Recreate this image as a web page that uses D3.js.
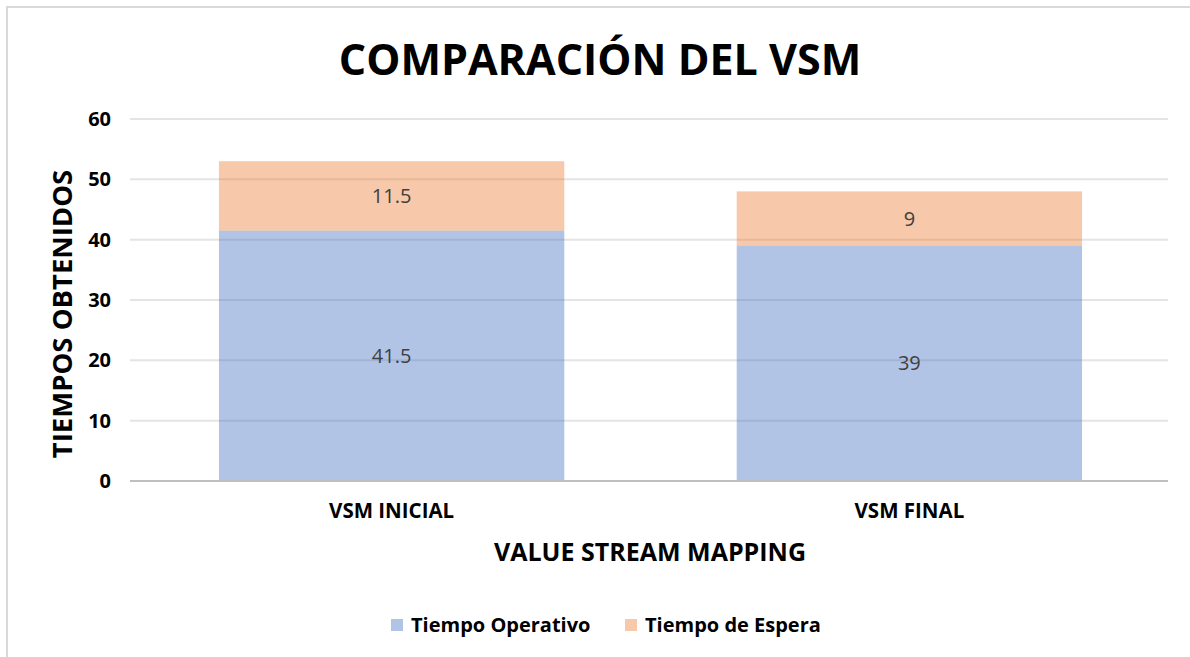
<!DOCTYPE html>
<html>
<head>
<meta charset="utf-8">
<script src="https://cdn.jsdelivr.net/npm/d3@7"></script>
<style>
  body { margin: 0; background: #fff; }
  text { font-family: "Open Sans", "Noto Sans", sans-serif; }
</style>
</head>
<body>
<svg id="chart" width="1190" height="657"></svg>
<script>
// data
const categories = ["VSM INICIAL", "VSM FINAL"];
const seriesNames = ["Tiempo Operativo", "Tiempo de Espera"];
const operativo = [41.5, 39];
const espera = [11.5, 9];
const yTicks = [0, 10, 20, 30, 40, 50, 60];
const colors = ["#4472C4", "#ED7D31"];

const svg = d3.select("#chart");
const W = 1190, H = 657;
const margin = { left: 130, right: 22, top: 119, bottom: 176 };

// outer frame (only left/top visible in the window)
svg.append("rect")
  .attr("x", 7).attr("y", 7)
  .attr("width", W + 20).attr("height", H + 20)
  .attr("fill", "#fff")
  .attr("stroke", "#D9D9D9").attr("stroke-width", 2);

const x = d3.scaleBand()
  .domain(categories)
  .range([margin.left + 3, W - margin.right])
  .paddingInner(0.333)
  .paddingOuter(0.166);

const y = d3.scaleLinear()
  .domain([0, 60])
  .range([H - margin.bottom, margin.top]);

// gridlines
svg.append("g")
  .selectAll("line")
  .data(yTicks.filter(d => d > 0))
  .enter().append("line")
  .attr("x1", margin.left).attr("x2", W - margin.right)
  .attr("y1", d => y(d)).attr("y2", d => y(d))
  .attr("stroke", "#E4E4E4").attr("stroke-width", 2);

// stacked data
const stackData = categories.map((c, i) => ({ cat: c, op: operativo[i], es: espera[i] }));
const stack = d3.stack().keys(["op", "es"])(stackData);

const layers = svg.append("g")
  .selectAll("g")
  .data(stack)
  .enter().append("g")
  .attr("fill", (d, i) => colors[i])
  .attr("fill-opacity", 0.42);

layers.selectAll("rect")
  .data(d => d)
  .enter().append("rect")
  .attr("x", d => x(d.data.cat))
  .attr("width", x.bandwidth())
  .attr("y", d => y(d[1]))
  .attr("height", d => y(d[0]) - y(d[1]));

// data labels
layers.selectAll("text")
  .data(d => d)
  .enter().append("text")
  .attr("x", d => x(d.data.cat) + x.bandwidth() / 2)
  .attr("y", d => (y(d[0]) + y(d[1])) / 2 + 7)
  .attr("text-anchor", "middle")
  .attr("fill", "#404040")
  .attr("fill-opacity", 1)
  .style("font-size", "20px")
  .text(d => d3.format("~g")(d[1] - d[0]));

// baseline
svg.append("line")
  .attr("x1", margin.left).attr("x2", W - margin.right)
  .attr("y1", y(0)).attr("y2", y(0))
  .attr("stroke", "#BFBFBF").attr("stroke-width", 2);

// y tick labels
svg.append("g")
  .selectAll("text")
  .data(yTicks)
  .enter().append("text")
  .attr("x", 111)
  .attr("y", d => y(d) + 7)
  .attr("text-anchor", "end")
  .style("font-size", "20px")
  .style("font-weight", "bold")
  .text(d => d);

// x category labels
svg.append("g")
  .selectAll("text")
  .data(categories)
  .enter().append("text")
  .attr("x", d => x(d) + x.bandwidth() / 2)
  .attr("y", 518)
  .attr("text-anchor", "middle")
  .style("font-size", "20.5px")
  .style("font-weight", "bold")
  .text(d => d);

// title
svg.append("text")
  .attr("x", 600).attr("y", 75)
  .attr("text-anchor", "middle")
  .style("font-size", "43px")
  .style("font-weight", "bold")
  .text("COMPARACIÓN DEL VSM");

// axis titles
svg.append("text")
  .attr("x", 650).attr("y", 561)
  .attr("text-anchor", "middle")
  .style("font-size", "25px")
  .style("font-weight", "bold")
  .text("VALUE STREAM MAPPING");

svg.append("text")
  .attr("transform", "translate(72,314) rotate(-90)")
  .attr("text-anchor", "middle")
  .style("font-size", "27.5px")
  .style("font-weight", "bold")
  .text("TIEMPOS OBTENIDOS");

// legend
const legendX = [391, 625];
const legend = svg.append("g")
  .selectAll("g")
  .data(seriesNames)
  .enter().append("g")
  .attr("transform", (d, i) => `translate(${legendX[i]},619)`);

legend.append("rect")
  .attr("width", 12).attr("height", 12)
  .attr("fill", (d, i) => colors[i])
  .attr("fill-opacity", 0.42);

legend.append("text")
  .attr("x", 20).attr("y", 13)
  .style("font-size", "20px")
  .style("font-weight", "bold")
  .text(d => d);
</script>
</body>
</html>
